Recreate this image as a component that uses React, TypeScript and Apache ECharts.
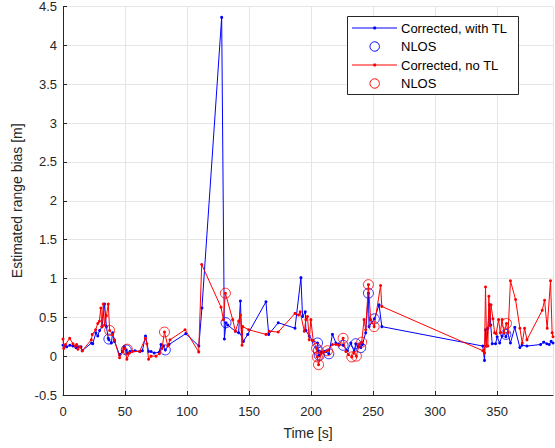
import React, { useEffect, useRef } from "react";
import * as echarts from "echarts";

// Corrected, with TL : [time s, bias m]
const withTL: number[][] = [
  [0, 0.14], [1.5, 0.13], [3, 0.12], [5.5, 0.14], [8, 0.13], [10.5, 0.11], [12, 0.12], [14.5, 0.12], [15.5, 0.07],
  [23, 0.17], [24, 0.16], [26.5, 0.3], [28, 0.26], [29.5, 0.33], [31.5, 0.38], [33.5, 0.67], [35, 0.38], [36.5, 0.23],
  [37, 0.21], [39, 0.17], [40, 0.3], [41.5, 0.19], [45.5, 0.02], [48, 0.06], [49.5, 0.12], [51, 0.08], [52, 0.04],
  [54, 0.06], [58, 0.07], [62, 0.06], [64, 0.07], [66.5, 0.26], [69, 0.06], [71, 0.06], [73.5, 0.04], [77.5, 0.05],
  [79, 0.15], [81, 0.13], [82.5, 0.08], [85.5, 0.15], [99, 0.29], [109.5, 0.13], [112, 0.62], [127.9, 4.36],
  [130.1, 0.22], [131.4, 0.43], [132.8, 0.4], [139, 0.32], [141.6, 0.3], [143, 0.71], [144, 0.28], [145.4, 0.19],
  [148.9, 0.28], [163.6, 0.7], [165.8, 0.28], [173.5, 0.43], [187, 0.36], [191.8, 1.01], [193.1, 0.51], [195.3, 0.57],
  [195.8, 0.33], [198.5, 0.26], [201.2, 0.2], [205.2, 0.17], [205.8, 0.07], [206.6, 0.01], [208, 0.05], [211, 0.06],
  [214.3, 0.03], [217.2, 0.28], [220, 0.17], [222.6, 0.15], [225.8, 0.14], [229.3, 0.07], [232, 0.17], [234.7, 0.06],
  [236, 0.16], [238, 0.12], [240, 0.11], [241.4, 0.15], [244, 0.3], [246.2, 0.81], [246.7, 0.38], [251, 0.48],
  [254.8, 0.66], [257, 0.38], [338.4, 0.13], [339.8, -0.055], [340.6, 0.34], [341.5, 0.13], [342.5, 0.36],
  [343.8, 0.66], [344.8, 0.4], [346, 0.16], [348.7, 0.16], [350, 0.25], [352, 0.17], [354, 0.26], [355.5, 0.3],
  [357, 0.25], [358.5, 0.3], [360.7, 0.17], [364.2, 0.37], [368.3, 0.11], [370, 0.14], [374, 0.13], [385, 0.15],
  [387.5, 0.18], [390, 0.16], [392, 0.15], [393.5, 0.19], [395, 0.17],
];

const withTLNlos: number[][] = [
  [37, 0.22], [51, 0.08], [82.5, 0.08], [131.4, 0.43], [205.2, 0.17], [205.8, 0.07], [206.6, 0.01], [214.3, 0.03],
  [225.8, 0.14], [236, 0.16], [240, 0.11], [246.2, 0.81], [251, 0.48], [357, 0.28],
];

// Corrected, no TL
const noTL: number[][] = [
  [0, 0.22], [0.6, 0.1], [2, 0.15], [5.4, 0.23], [8, 0.16], [10, 0.13], [11, 0.15], [12, 0.09], [13.5, 0.12],
  [15.5, 0.07], [22.8, 0.21], [23.6, 0.28], [26.3, 0.34], [28, 0.42], [29.3, 0.45], [30.5, 0.62], [31.3, 0.38],
  [32.5, 0.67], [33.5, 0.4], [35, 0.52], [36.5, 0.67], [37.6, 0.33], [40, 0.28], [41.5, 0.21], [45.6, -0.02],
  [48.3, 0.06], [50, 0.1], [51.5, -0.04], [53.6, 0.04], [56, 0.06], [61.7, 0.06], [66.5, 0.23], [67.6, 0.16],
  [69, -0.04], [71, 0.0], [75, 0.0], [77.7, 0.03], [79.8, 0.1], [81.8, 0.31], [84.5, 0.13], [86.3, 0.21],
  [98.4, 0.34], [109.4, 0.055], [111.8, 1.18], [127.4, 0.63], [129.3, 0.47], [130.9, 0.81], [136.8, 0.47],
  [139, 0.32], [141.6, 0.45], [143, 0.53], [144.3, 0.14], [144.9, 0.38], [149.7, 0.34], [163.6, 0.28], [166.3, 0.32],
  [173.5, 0.31], [187, 0.55], [189.9, 0.53], [191.2, 0.57], [194.5, 0.32], [195.8, 0.47], [197.1, 0.51], [198.5, 0.21],
  [199.8, 0.47], [201.7, 0.2], [204.4, 0.1], [205, -0.01], [206, -0.11], [208, 0.03], [210, 0.05], [213.2, 0.07],
  [217.2, 0.15], [220, 0.15], [222.6, 0.14], [225.8, 0.23], [228, 0.06], [230, 0.02], [232.8, -0.01], [234.5, 0.04],
  [236.5, 0.0], [238.7, 0.15], [240.8, 0.18], [242.7, 0.47], [244, 0.34], [246.2, 0.92], [248, 0.47], [250.8, 0.38],
  [256, 0.91], [257, 0.64], [338.4, 0.07], [339.8, 0.04], [340.6, 0.89], [341.5, 0.13], [342.5, 0.13], [343.3, 0.77],
  [344, 0.39], [345, 0.66], [346.6, 0.48], [347.9, 0.3], [349.2, 0.29], [351.1, 0.47], [352.5, 0.3], [354, 0.47],
  [355.4, 0.3], [357.5, 0.42], [358.8, 0.3], [360.7, 0.97], [364.8, 0.73], [368.3, 0.36], [370.2, 0.17],
  [372.1, 0.36], [374, 0.21], [386.3, 0.59], [388.2, 0.72], [390.3, 0.36], [393, 0.97], [394.3, 0.3], [395, 0.25],
];

const noTLNlos: number[][] = [
  [37.6, 0.33], [51.8, 0.09], [81.8, 0.31], [130.9, 0.81], [204.4, 0.1], [205, -0.01], [206, -0.11], [213.2, 0.07],
  [225.8, 0.23], [232.8, -0.01], [236.5, 0.0], [240.8, 0.18], [246.2, 0.92], [250.8, 0.38], [357.5, 0.42],
];

const legendLabels = ["Corrected, with TL", "NLOS", "Corrected, no TL", "NLOS"];
const legendColors = ["#0000ff", "#0000ff", "#ff0000", "#ff0000"];
const legendKinds = ["line", "circle", "line", "circle"];

const FONT = "'Liberation Sans', Arial, Helvetica, sans-serif";

export default function App() {
  const ref = useRef<HTMLDivElement>(null);
  useEffect(() => {
    if (!ref.current) return;
    const chart = echarts.init(ref.current, null, { renderer: "svg" });
    const axisColor = "#262626";
    const gridColor = "#e5e5e5";

    const legendElems: any[] = [
      {
        type: "rect",
        shape: { x: 347.5, y: 16.5, width: 171, height: 78 },
        style: { fill: "#ffffff", stroke: axisColor, lineWidth: 1 },
        z: 100,
      },
    ];
    const rowY = [28, 46.5, 65, 83.5];
    legendLabels.forEach((label, i) => {
      const y = rowY[i];
      if (legendKinds[i] === "line") {
        legendElems.push({
          type: "line",
          shape: { x1: 352, y1: y, x2: 397, y2: y },
          style: { stroke: legendColors[i], lineWidth: 1 },
          z: 101,
        });
        legendElems.push({
          type: "circle",
          shape: { cx: 374.7, cy: y, r: 1.6 },
          style: { fill: legendColors[i] },
          z: 101,
        });
      } else {
        legendElems.push({
          type: "circle",
          shape: { cx: 374.7, cy: y, r: 4.7 },
          style: { fill: "none", stroke: legendColors[i], lineWidth: 1 },
          z: 101,
        });
      }
      legendElems.push({
        type: "text",
        x: 401,
        y: y,
        style: {
          text: label,
          fill: "#000000",
          font: `13px ${FONT}`,
          verticalAlign: "middle",
          textAlign: "left",
        },
        z: 101,
      });
    });

    chart.setOption({
      animation: false,
      backgroundColor: "#ffffff",
      textStyle: { fontFamily: FONT },
      grid: { left: 63, right: 2, top: 6, bottom: 53, containLabel: false },
      xAxis: {
        type: "value",
        min: 0,
        max: 395,
        interval: 50,
        name: "Time [s]",
        nameLocation: "middle",
        nameGap: 31,
        nameTextStyle: { fontSize: 14, color: axisColor, fontFamily: FONT },
        axisLine: { show: true, onZero: false, lineStyle: { color: axisColor, width: 1 } },
        axisTick: { show: true, inside: true, length: 4, lineStyle: { color: axisColor } },
        axisLabel: { fontSize: 13, color: axisColor, margin: 10, showMaxLabel: false, fontFamily: FONT },
        splitLine: { show: true, lineStyle: { color: gridColor, width: 1 } },
      },
      yAxis: {
        type: "value",
        min: -0.5,
        max: 4.5,
        interval: 0.5,
        name: "Estimated range bias [m]",
        nameLocation: "middle",
        nameGap: 39,
        nameRotate: 90,
        nameTextStyle: { fontSize: 14, color: axisColor, fontFamily: FONT },
        axisLine: { show: true, onZero: false, lineStyle: { color: axisColor, width: 1 } },
        axisTick: { show: true, inside: true, length: 4, lineStyle: { color: axisColor } },
        axisLabel: { fontSize: 13, color: axisColor, margin: 6, fontFamily: FONT },
        splitLine: { show: true, lineStyle: { color: gridColor, width: 1 } },
      },
      series: [
        {
          name: "Corrected, with TL",
          type: "line",
          data: withTL,
          symbol: "circle",
          symbolSize: 3,
          showSymbol: true,
          showAllSymbol: true,
          lineStyle: { color: "#0000ff", width: 1 },
          itemStyle: { color: "#0000ff" },
          z: 2,
        },
        {
          name: "NLOS with TL",
          type: "scatter",
          data: withTLNlos,
          symbol: "circle",
          symbolSize: 10,
          itemStyle: { color: "rgba(0,0,0,0)", borderColor: "#0000ff", borderWidth: 1 },
          z: 3,
        },
        {
          name: "Corrected, no TL",
          type: "line",
          data: noTL,
          symbol: "circle",
          symbolSize: 3,
          showSymbol: true,
          showAllSymbol: true,
          lineStyle: { color: "#ff0000", width: 1 },
          itemStyle: { color: "#ff0000" },
          z: 4,
        },
        {
          name: "NLOS no TL",
          type: "scatter",
          data: noTLNlos,
          symbol: "circle",
          symbolSize: 10,
          itemStyle: { color: "rgba(0,0,0,0)", borderColor: "#ff0000", borderWidth: 1 },
          z: 5,
        },
      ],
      graphic: legendElems,
    });
    return () => chart.dispose();
  }, []);
  return <div ref={ref} style={{ width: 555, height: 448, position: "absolute", left: 0, top: 0 }} />;
}
